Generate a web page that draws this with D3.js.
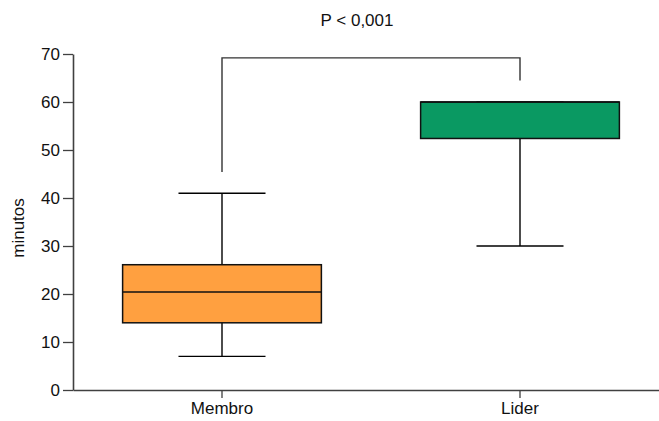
<!DOCTYPE html>
<html>
<head>
<meta charset="utf-8">
<script src="https://cdn.jsdelivr.net/npm/d3@7"></script>
<style>
  body { margin: 0; background: #fff; }
  svg { display: block; font-family: "Liberation Sans", Arial, sans-serif; }
</style>
</head>
<body>
<svg id="chart" width="659" height="421"></svg>
<script>
const categories = ["Membro", "Lider"];
const q1 = [14, 52.4];
const median = [20.4, 60];
const q3 = [26.1, 60];
const whiskerLow = [7, 30];
const whiskerHigh = [41, 60];
const colors = ["#ffa040", "#0a9962"];
const yTicks = [0, 10, 20, 30, 40, 50, 60, 70];

// significance bracket: top, left end, right end
const bracket = {top: 69.2, left: 45.4, right: 64.5, label: "P < 0,001"};

const svg = d3.select("#chart");
const margin = {left: 73, top: 54, bottom: 31};
const height = 421;

const x = d3.scaleBand()
    .domain(categories)
    .range([margin.left, 669])
    .padding(0);

const y = d3.scaleLinear()
    .domain([0, 70])
    .range([height - margin.bottom - 0, margin.top]);

const boxW = x.bandwidth() * 0.667;
const capW = x.bandwidth() * 0.292;
const cx = c => x(c) + x.bandwidth() / 2;

// axes
const yAxis = svg.append("g")
    .attr("transform", `translate(${margin.left},0)`)
    .call(d3.axisLeft(y).tickValues(yTicks).tickSize(10).tickPadding(3).tickSizeOuter(0));

const xAxis = svg.append("g")
    .attr("transform", `translate(0,${y(0)})`)
    .call(d3.axisBottom(x).tickSize(8).tickPadding(4).tickSizeOuter(0));

for (const g of [yAxis, xAxis]) {
    g.selectAll(".domain").attr("stroke", "#404040").attr("stroke-width", 1.6);
    g.selectAll(".tick line").attr("stroke", "#404040").attr("stroke-width", 1.3);
    g.selectAll(".tick text").attr("fill", "#111").style("font-size", "17px");
}

// boxes
const boxes = svg.append("g").selectAll("g")
    .data(categories)
    .join("g");

boxes.append("line")
    .attr("x1", cx).attr("x2", cx)
    .attr("y1", (d, i) => y(whiskerLow[i]))
    .attr("y2", (d, i) => y(whiskerHigh[i]))
    .attr("stroke", "#000").attr("stroke-width", 1.4);

boxes.append("line")
    .attr("x1", d => cx(d) - capW / 2).attr("x2", d => cx(d) + capW / 2)
    .attr("y1", (d, i) => y(whiskerLow[i]))
    .attr("y2", (d, i) => y(whiskerLow[i]))
    .attr("stroke", "#000").attr("stroke-width", 1.4);

boxes.append("line")
    .attr("x1", d => cx(d) - capW / 2).attr("x2", d => cx(d) + capW / 2)
    .attr("y1", (d, i) => y(whiskerHigh[i]))
    .attr("y2", (d, i) => y(whiskerHigh[i]))
    .attr("stroke", "#000").attr("stroke-width", 1.4);

boxes.append("rect")
    .attr("x", d => cx(d) - boxW / 2)
    .attr("width", boxW)
    .attr("y", (d, i) => y(q3[i]))
    .attr("height", (d, i) => y(q1[i]) - y(q3[i]))
    .attr("fill", (d, i) => colors[i])
    .attr("stroke", "#111").attr("stroke-width", 1.5);

boxes.append("line")
    .attr("x1", d => cx(d) - boxW / 2).attr("x2", d => cx(d) + boxW / 2)
    .attr("y1", (d, i) => y(median[i]))
    .attr("y2", (d, i) => y(median[i]))
    .attr("stroke", "#111").attr("stroke-width", 1.5);

// bracket
const [c0, c1] = categories.map(cx);
svg.append("path")
    .attr("d", `M${c0},${y(bracket.left)}V${y(bracket.top)}H${c1}V${y(bracket.right)}`)
    .attr("fill", "none")
    .attr("stroke", "#333").attr("stroke-width", 1.4);

svg.append("text")
    .attr("x", 357).attr("y", 26)
    .attr("text-anchor", "middle")
    .style("font-size", "17px")
    .attr("fill", "#111")
    .text(bracket.label);

// y label
svg.append("text")
    .attr("transform", `translate(24,${(y(0) + y(70)) / 2 + 6}) rotate(-90)`)
    .attr("text-anchor", "middle")
    .style("font-size", "17px")
    .attr("fill", "#111")
    .text("minutos");
</script>
</body>
</html>
